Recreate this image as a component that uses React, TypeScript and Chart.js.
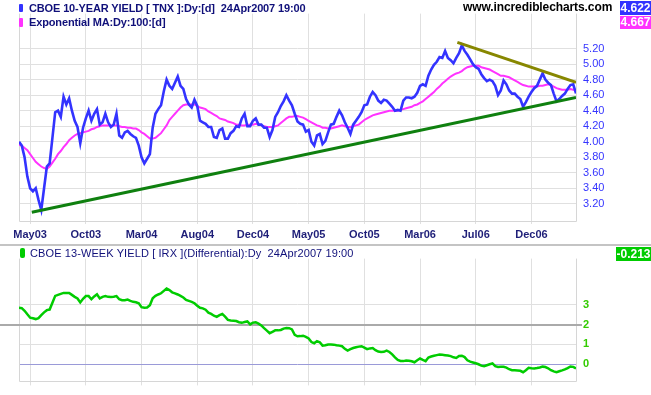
import React, { useEffect, useRef } from 'react';
import { Chart, registerables } from 'chart.js';
Chart.register(...registerables);

// Weekly samples (index = week number from early Apr 2003 to 24 Apr 2007)
const TNX = [
  4.00, 3.95, 3.80, 3.55, 3.40, 3.36, 3.40, 3.25, 3.12, 3.40,
  3.68, 3.72, 4.05, 4.38, 4.40, 4.32, 4.58, 4.48, 4.56, 4.40,
  4.27, 4.19, 3.98, 4.18, 4.30, 4.40, 4.27, 4.36, 4.42, 4.22,
  4.25, 4.36, 4.25, 4.19, 4.22, 4.36, 4.08, 4.05, 4.12, 4.14,
  4.10, 4.07, 4.05, 3.95, 3.80, 3.72, 3.78, 3.84, 4.18, 4.36,
  4.42, 4.47, 4.65, 4.80, 4.72, 4.68, 4.76, 4.84, 4.72, 4.68,
  4.55, 4.48, 4.44, 4.54, 4.46, 4.27, 4.25, 4.23, 4.19, 4.19,
  4.06, 4.05, 4.15, 4.17, 4.04, 4.04, 4.11, 4.14, 4.20, 4.19,
  4.30, 4.36, 4.20, 4.20, 4.27, 4.30, 4.22, 4.22, 4.18, 4.18,
  4.06, 4.15, 4.32, 4.38, 4.46, 4.52, 4.60, 4.53, 4.47, 4.36,
  4.26, 4.23, 4.22, 4.13, 4.15, 4.00, 3.95, 4.08, 4.10, 3.97,
  4.01, 4.12, 4.22, 4.23, 4.32, 4.40, 4.34, 4.25, 4.18, 4.10,
  4.22, 4.27, 4.32, 4.38, 4.47, 4.48, 4.58, 4.64, 4.60, 4.53,
  4.50, 4.54, 4.53, 4.49, 4.45, 4.40, 4.41, 4.40, 4.53, 4.57,
  4.57, 4.56, 4.58, 4.63, 4.72, 4.74, 4.72, 4.85, 4.93, 4.99,
  5.03, 5.09, 5.08, 5.17, 5.08, 5.05, 5.01, 5.08, 5.14, 5.24,
  5.17, 5.12, 5.06, 5.00, 4.96, 4.94, 4.87, 4.82, 4.78, 4.80,
  4.78, 4.72, 4.60, 4.66, 4.79, 4.74, 4.66, 4.62, 4.62, 4.58,
  4.55, 4.45, 4.51, 4.58, 4.64, 4.69, 4.72, 4.80, 4.88, 4.80,
  4.76, 4.73, 4.62, 4.52, 4.55, 4.59, 4.62, 4.68, 4.73, 4.74, 4.622,
];

const EMA100 = [
  3.96, 3.95, 3.92, 3.89, 3.84, 3.79, 3.74, 3.71, 3.68, 3.66,
  3.65, 3.68, 3.73, 3.78, 3.84, 3.88, 3.93, 3.97, 4.02, 4.05,
  4.08, 4.10, 4.11, 4.12, 4.13, 4.14, 4.16, 4.17, 4.19, 4.20,
  4.21, 4.21, 4.21, 4.21, 4.21, 4.21, 4.20, 4.19, 4.19, 4.18,
  4.18, 4.17, 4.17, 4.15, 4.12, 4.10, 4.07, 4.04, 4.04, 4.05,
  4.08, 4.11, 4.16, 4.21, 4.28, 4.32, 4.36, 4.40, 4.44, 4.47,
  4.48, 4.48, 4.48, 4.48, 4.46, 4.44, 4.43, 4.42, 4.39, 4.37,
  4.35, 4.33, 4.30, 4.29, 4.28, 4.26, 4.25, 4.24, 4.22, 4.22,
  4.21, 4.21, 4.22, 4.22, 4.22, 4.23, 4.22, 4.21, 4.20, 4.19,
  4.19, 4.19, 4.20, 4.21, 4.24, 4.27, 4.30, 4.32, 4.32, 4.33,
  4.33, 4.32, 4.31, 4.29, 4.27, 4.25, 4.23, 4.21, 4.20, 4.18,
  4.18, 4.17, 4.17, 4.18, 4.19, 4.20, 4.21, 4.20, 4.19, 4.19,
  4.20, 4.21, 4.22, 4.25, 4.28, 4.30, 4.32, 4.34, 4.35, 4.36,
  4.37, 4.38, 4.39, 4.40, 4.40, 4.40, 4.40, 4.41, 4.42, 4.43,
  4.44, 4.45, 4.47, 4.48, 4.50, 4.52, 4.55, 4.58, 4.61, 4.64,
  4.68, 4.71, 4.75, 4.78, 4.81, 4.84, 4.86, 4.88, 4.89, 4.91,
  4.94, 4.96, 4.97, 4.98, 4.98, 4.98, 4.96, 4.95, 4.94, 4.93,
  4.91, 4.89, 4.87, 4.85, 4.85, 4.84, 4.83, 4.81, 4.79, 4.77,
  4.75, 4.73, 4.72, 4.71, 4.71, 4.71, 4.71, 4.72, 4.72, 4.73,
  4.74, 4.73, 4.71, 4.69, 4.68, 4.67, 4.67, 4.67, 4.68, 4.67, 4.667,
];

const IRX_DIFF = [
  2.85, 2.83, 2.70, 2.52, 2.35, 2.32, 2.28, 2.33, 2.48, 2.62,
  2.73, 2.76, 3.10, 3.45, 3.50, 3.55, 3.60, 3.60, 3.60, 3.50,
  3.40, 3.32, 3.12, 3.30, 3.44, 3.44, 3.28, 3.42, 3.53, 3.32,
  3.40, 3.44, 3.40, 3.39, 3.41, 3.44, 3.28, 3.23, 3.23, 3.26,
  3.20, 3.15, 3.13, 3.08, 2.88, 2.85, 2.86, 2.98, 3.33, 3.45,
  3.52, 3.58, 3.70, 3.82, 3.74, 3.63, 3.58, 3.52, 3.45, 3.37,
  3.25, 3.20, 3.15, 3.08, 2.95, 2.85, 2.82, 2.75, 2.60, 2.54,
  2.45, 2.39, 2.48, 2.54, 2.40, 2.24, 2.21, 2.20, 2.18, 2.12,
  2.09, 2.13, 2.16, 2.01, 2.10, 2.12, 2.05, 1.96, 1.82, 1.70,
  1.57, 1.64, 1.71, 1.71, 1.73, 1.80, 1.83, 1.82, 1.76, 1.48,
  1.41, 1.42, 1.44, 1.38, 1.30, 1.12, 1.06, 1.17, 1.11, 0.94,
  0.96, 1.00, 1.00, 0.99, 0.96, 0.94, 0.91, 0.78, 0.69, 0.76,
  0.82, 0.86, 0.89, 0.91, 0.84, 0.76, 0.80, 0.82, 0.71, 0.64,
  0.62, 0.63, 0.69, 0.62, 0.50, 0.35, 0.22, 0.17, 0.16, 0.19,
  0.18, 0.15, 0.10, 0.20, 0.29, 0.22, 0.16, 0.34, 0.39, 0.43,
  0.46, 0.49, 0.48, 0.46, 0.44, 0.41, 0.35, 0.32, 0.42, 0.43,
  0.36, 0.20, 0.13, 0.09, 0.05, 0.00, -0.07, -0.10, -0.05, 0.00,
  0.04, -0.10, -0.14, -0.12, -0.13, -0.17, -0.25, -0.30, -0.30, -0.31,
  -0.33, -0.40, -0.30, -0.18, -0.20, -0.21, -0.19, -0.16, -0.12, -0.14,
  -0.20, -0.30, -0.36, -0.40, -0.35, -0.31, -0.26, -0.19, -0.11, -0.13, -0.213,
];

const SUPPORT_X = [4.6, 200];
const SUPPORT_Y = [3.09, 4.57];
const RESIST_X = [157.4, 200];
const RESIST_Y = [5.28, 4.765];

const X_TICK_WEEKS = [4, 24, 44, 64, 84, 104, 124, 144, 164, 184];
const X_TICK_LABELS = ['May03', 'Oct03', 'Mar04', 'Aug04', 'Dec04', 'May05', 'Oct05', 'Mar06', 'Jul06', 'Dec06'];
const Y_TICKS_TOP = [3.2, 3.4, 3.6, 3.8, 4.0, 4.2, 4.4, 4.6, 4.8, 5.0, 5.2];
const Y_TICKS_BOTTOM = [0, 1, 2, 3];

const FONT = "Arial, 'Liberation Sans', sans-serif";
const GRID = '#e0e0e0';

const frame = {
  id: 'frame',
  beforeDatasetsDraw(chart: any) {
    const { ctx, chartArea: a } = chart;
    ctx.save();
    ctx.strokeStyle = '#d6d6d6';
    ctx.lineWidth = 1;
    ctx.beginPath();
    ctx.moveTo(Math.round(a.left) + 0.5, a.top);
    ctx.lineTo(Math.round(a.left) + 0.5, Math.round(a.bottom) + 0.5);
    ctx.lineTo(Math.round(a.right) + 0.5, Math.round(a.bottom) + 0.5);
    ctx.lineTo(Math.round(a.right) + 0.5, a.top);
    ctx.stroke();
    ctx.restore();
  },
};

const refLine2 = {
  id: 'refLine2',
  beforeDatasetsDraw(chart: any) {
    const { ctx, chartArea: a, scales } = chart;
    const y = scales.y.getPixelForValue(2);
    ctx.save();
    ctx.strokeStyle = '#aaaaaa';
    ctx.lineWidth = 2;
    ctx.beginPath();
    ctx.moveTo(0, Math.round(y));
    ctx.lineTo(a.right + 6, Math.round(y));
    ctx.stroke();
    ctx.restore();
  },
};

export default function App() {
  const topRef = useRef<HTMLCanvasElement>(null);
  const botRef = useRef<HTMLCanvasElement>(null);

  useEffect(() => {
    document.body.style.margin = '0';
    const pts = (arr: number[]) => arr.map((v, i) => ({ x: i, y: v }));
    const pair = (xs: number[], ys: number[]) => xs.map((x, i) => ({ x, y: ys[i] }));

    const xScale = (showLabels: boolean, height: number, tickLen: number) => ({
      type: 'linear',
      min: 0,
      max: 200,
      afterBuildTicks: (s: any) => { s.ticks = X_TICK_WEEKS.map((v) => ({ value: v })); },
      afterFit: (s: any) => { s.height = height; },
      ticks: {
        display: showLabels,
        autoSkip: false,
        maxRotation: 0,
        padding: 4,
        color: '#1e1e78',
        font: { family: FONT, size: 11, weight: 'bold' },
        callback: (_v: any, i: number) => X_TICK_LABELS[i] ?? '',
      },
      grid: { color: GRID, tickLength: tickLen, drawTicks: true },
      border: { display: false },
    });

    const top = new Chart(topRef.current!, {
      type: 'line',
      data: {
        datasets: [
          { data: pair(SUPPORT_X, SUPPORT_Y), borderColor: '#0f800f', borderWidth: 3, pointRadius: 0 },
          { data: pair(RESIST_X, RESIST_Y), borderColor: '#878700', borderWidth: 3, pointRadius: 0 },
          { data: pts(TNX), borderColor: '#3333ff', borderWidth: 2.6, pointRadius: 0, tension: 0 },
          { data: pts(EMA100), borderColor: '#ff33ff', borderWidth: 2, pointRadius: 0, tension: 0 },
        ],
      },
      options: {
        animation: false,
        responsive: false,
        layout: { padding: { left: 19, top: 0, right: 0, bottom: 0 } },
        plugins: { legend: { display: false }, tooltip: { enabled: false } },
        scales: {
          x: xScale(true, 24, 3) as any,
          y: {
            type: 'linear',
            position: 'right',
            min: 2.978,
            max: 5.651,
            afterBuildTicks: (s: any) => { s.ticks = Y_TICKS_TOP.map((v) => ({ value: v })); },
            afterFit: (s: any) => { s.width = 75; },
            ticks: {
              padding: 7,
              color: '#3535ff',
              font: { family: FONT, size: 11 },
              callback: (v: any) => Number(v).toFixed(2),
            },
            grid: { color: GRID, drawTicks: false },
            border: { display: false },
          },
        },
      },
      plugins: [frame],
    });

    const bot = new Chart(botRef.current!, {
      type: 'line',
      data: {
        datasets: [
          { data: pts(IRX_DIFF), borderColor: '#00cc00', borderWidth: 2.5, pointRadius: 0, tension: 0 },
        ],
      },
      options: {
        animation: false,
        responsive: false,
        layout: { padding: { left: 19, top: 2, right: 0, bottom: 0 } },
        plugins: { legend: { display: false }, tooltip: { enabled: false } },
        scales: {
          x: xScale(false, 12, 4) as any,
          y: {
            type: 'linear',
            position: 'right',
            min: -0.864,
            max: 5.33,
            afterBuildTicks: (s: any) => { s.ticks = Y_TICKS_BOTTOM.map((v) => ({ value: v })); },
            afterFit: (s: any) => { s.width = 75; },
            ticks: {
              padding: 7,
              color: '#33cc00',
              font: { family: FONT, size: 11, weight: 'bold' },
              callback: (v: any) => String(v),
            },
            grid: {
              drawTicks: false,
              color: (c: any) => (c.tick && c.tick.value === 0 ? '#9a9ad8' : c.tick && c.tick.value === 2 ? 'rgba(0,0,0,0)' : GRID),
            },
            border: { display: false },
          },
        },
      },
      plugins: [frame, refLine2],
    });

    return () => { top.destroy(); bot.destroy(); };
  }, []);

  const txt = (extra: any): any => ({
    position: 'absolute', whiteSpace: 'nowrap', fontFamily: FONT, lineHeight: '13px', ...extra,
  });

  return (
    <div style={{ position: 'absolute', left: 0, top: 0, width: 651, height: 395, background: '#fff', overflow: 'hidden' }}>
      <canvas ref={topRef} width={651} height={245} style={{ position: 'absolute', left: 0, top: 0 }} />
      <canvas ref={botRef} width={651} height={150} style={{ position: 'absolute', left: 0, top: 245 }} />
      <div style={{ position: 'absolute', left: 0, top: 244, width: 651, height: 2, background: '#c4c4c4' }} />

      <div style={{ position: 'absolute', left: 19, top: 4, width: 4, height: 8, background: '#3333ff', borderRadius: 1 }} />
      <div style={txt({ left: 29, top: 2, fontSize: 11, fontWeight: 'bold', color: '#10107a', letterSpacing: '-0.14px' })}>CBOE 10-YEAR YIELD [ TNX ]:Dy:[d]&nbsp; 24Apr2007 19:00</div>
      <div style={{ position: 'absolute', left: 19, top: 18, width: 4, height: 9, background: '#ff33ff', borderRadius: 1 }} />
      <div style={txt({ left: 29, top: 16, fontSize: 11, fontWeight: 'bold', color: '#10107a', letterSpacing: '-0.14px' })}>Exponential MA:Dy:100:[d]</div>

      <div style={txt({ left: 463, top: 1, fontSize: 12, fontWeight: 'bold', color: '#000', letterSpacing: '-0.1px' })}>www.incrediblecharts.com</div>

      <div style={txt({ left: 620, top: 1, width: 31, height: 14, lineHeight: '14px', background: '#3333ff', color: '#fff', fontSize: 12, fontWeight: 'bold', textAlign: 'center' })}>4.622</div>
      <div style={txt({ left: 620, top: 16, width: 31, height: 13, lineHeight: '13px', background: '#ff33ff', color: '#fff', fontSize: 12, fontWeight: 'bold', textAlign: 'center' })}>4.667</div>

      <div style={{ position: 'absolute', left: 20, top: 248, width: 5, height: 10, background: '#00cc00', borderRadius: 2 }} />
      <div style={txt({ left: 30, top: 247, fontSize: 11, color: '#10107a', letterSpacing: '0.1px' })}>CBOE 13-WEEK YIELD [ IRX ](Differential):Dy&nbsp; 24Apr2007 19:00</div>
      <div style={txt({ left: 616, top: 247, width: 35, height: 14, lineHeight: '14px', background: '#00cc00', color: '#fff', fontSize: 12, fontWeight: 'bold', textAlign: 'center' })}>-0.213</div>
    </div>
  );
}
